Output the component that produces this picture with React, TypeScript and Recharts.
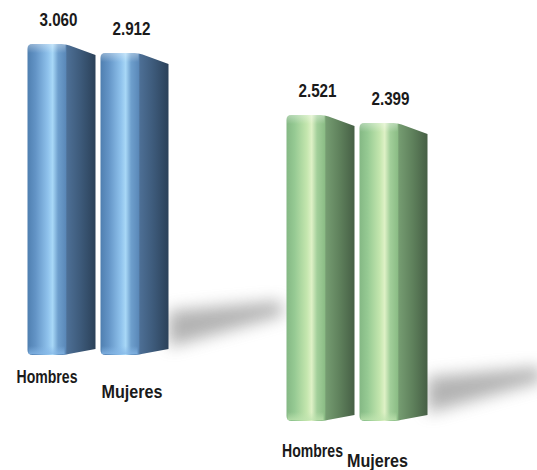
import { Bar, BarChart, LabelList, XAxis, YAxis } from "recharts"

const categories = ["Hombres", "Mujeres"]
const blueValues = [3060, 2912]
const greenValues = [2521, 2399]

const FONT = '"Liberation Sans", Arial, sans-serif'

const fmt = (v: number) => `${Math.floor(v / 1000)}.${String(v % 1000).padStart(3, "0")}`

const blueStops: [string, string][] = [
  ["0%", "#4f7fb0"],
  ["12%", "#6394c6"],
  ["30%", "#8fc2ec"],
  ["37%", "#a8d8f7"],
  ["45%", "#6e9fcd"],
  ["56%", "#5b89b9"],
  ["58%", "#4d6f95"],
  ["78%", "#3d5a7a"],
  ["100%", "#2b4159"],
]

const greenStops: [string, string][] = [
  ["0%", "#84b884"],
  ["12%", "#96ca93"],
  ["30%", "#c4e6ae"],
  ["37%", "#def1c6"],
  ["45%", "#a2cf9a"],
  ["56%", "#8cbd86"],
  ["58%", "#759c71"],
  ["78%", "#5f815c"],
  ["100%", "#465f45"],
]

function Defs({ id, stops, rim }: { id: string; stops: [string, string][]; rim: string }) {
  return (
    <defs>
      <linearGradient id={`${id}-face`} x1="0" y1="0" x2="1" y2="0">
        {stops.map(([o, c]) => (
          <stop key={o} offset={o} stopColor={c} />
        ))}
      </linearGradient>
      <linearGradient id={`${id}-top`} x1="0" y1="0" x2="0" y2="1">
        <stop offset="0%" stopColor="#ffffff" stopOpacity={0.35} />
        <stop offset="100%" stopColor="#ffffff" stopOpacity={0} />
      </linearGradient>
      <linearGradient id={`${id}-bot`} x1="0" y1="0" x2="0" y2="1">
        <stop offset="0%" stopColor={rim} stopOpacity={0} />
        <stop offset="100%" stopColor={rim} stopOpacity={0.75} />
      </linearGradient>
      <filter id={`${id}-blur`} x="-50%" y="-100%" width="200%" height="300%">
        <feGaussianBlur stdDeviation="8" />
      </filter>
    </defs>
  )
}

function Pillar(props: any) {
  const { x, y, width: w, background, index, gid, last } = props
  const b = background ? background.y + background.height : y + props.height
  const f = w * 0.56
  const r = 5
  const d = [
    `M${x},${y + r}`,
    `Q${x},${y} ${x + r},${y}`,
    `L${x + f - 4},${y}`,
    `Q${x + f},${y} ${x + f + 4},${y + 1.5}`,
    `L${x + w},${y + 11}`,
    `L${x + w},${b - 6}`,
    `L${x + f + 3},${b - 1}`,
    `Q${x + f},${b} ${x + f - 3},${b}`,
    `L${x + r},${b}`,
    `Q${x},${b} ${x},${b - r}`,
    "Z",
  ].join(" ")
  const rx = x + w
  return (
    <g>
      {index === last && (
        <polygon
          points={`${rx},${b - 44} ${rx + 112},${b - 54} ${rx + 115},${b - 40} ${rx},${b - 8}`}
          fill="#808080"
          opacity={0.6}
          filter={`url(#${gid}-blur)`}
        />
      )}
      <path d={d} fill={`url(#${gid}-face)`} />
      <path d={`M${x},${y + r} Q${x},${y} ${x + r},${y} L${x + f},${y} L${x + f},${y + 9} L${x},${y + 9} Z`} fill={`url(#${gid}-top)`} />
      <rect x={x + 1} y={b - 9} width={f - 2} height={8} fill={`url(#${gid}-bot)`} />
    </g>
  )
}

function ValueLabel(props: any) {
  const { x, y, width, value } = props
  return (
    <text
      x={x + width / 2 - 3}
      y={y - 18}
      textAnchor="middle"
      fontFamily={FONT}
      fontWeight={700}
      fontSize={18}
      textLength={38}
      lengthAdjust="spacingAndGlyphs"
      fill="#1a1a1a"
    >
      {fmt(value)}
    </text>
  )
}

const makeTick = (offsets: { dx: number; dy: number }[]) => (p: any) => {
  const o = offsets[p.index] ?? { dx: 0, dy: 0 }
  return (
    <text
      x={p.x + o.dx}
      y={p.y + o.dy}
      textAnchor="middle"
      fontFamily={FONT}
      fontWeight={700}
      fontSize={17.5}
      textLength={61}
      lengthAdjust="spacingAndGlyphs"
      fill="#1a1a1a"
    >
      {p.payload.value}
    </text>
  )
}

function Group({
  values,
  gid,
  stops,
  rim,
  left,
  top,
  plot,
  axisH,
  domain,
  offsets,
}: {
  values: number[]
  gid: string
  stops: [string, string][]
  rim: string
  left: number
  top: number
  plot: number
  axisH: number
  domain: [number, number]
  offsets: { dx: number; dy: number }[]
}) {
  const data = categories.map((name, i) => ({ name, value: values[i] }))
  const ml = 24
  const mr = 130
  return (
    <div style={{ position: "absolute", left, top: 0 }}>
      <BarChart
        width={ml + 146 + mr}
        height={top + plot + axisH}
        data={data}
        margin={{ top, right: mr, bottom: 0, left: ml }}
        barCategoryGap={2.5}
      >
        <Defs id={gid} stops={stops} rim={rim} />
        <XAxis dataKey="name" axisLine={false} tickLine={false} tickSize={0} height={axisH} interval={0} tick={makeTick(offsets)} />
        <YAxis hide type="number" domain={domain} />
        <Bar
          dataKey="value"
          isAnimationActive={false}
          shape={(p: any) => <Pillar {...p} gid={gid} last={categories.length - 1} />}
        >
          <LabelList dataKey="value" content={<ValueLabel />} />
        </Bar>
      </BarChart>
    </div>
  )
}

export default function App() {
  return (
    <div
      style={{
        position: "fixed",
        left: 0,
        top: 0,
        width: 537,
        height: 470,
        overflow: "hidden",
        background: "#fff",
      }}
    >
      <Group
        values={blueValues}
        gid="blue"
        stops={blueStops}
        rim="#86b8e8"
        left={0.5}
        top={29}
        plot={326}
        axisH={60}
        domain={[-2054, 3307]}
        offsets={[
          { dx: -14.5, dy: 26 },
          { dx: -2.5, dy: 41 },
        ]}
      />
      <Group
        values={greenValues}
        gid="green"
        stops={greenStops}
        rim="#c0e4b0"
        left={259.5}
        top={96}
        plot={325}
        axisH={60}
        domain={[-2146, 2811]}
        offsets={[
          { dx: -8, dy: 34 },
          { dx: -16, dy: 44 },
        ]}
      />
    </div>
  )
}
